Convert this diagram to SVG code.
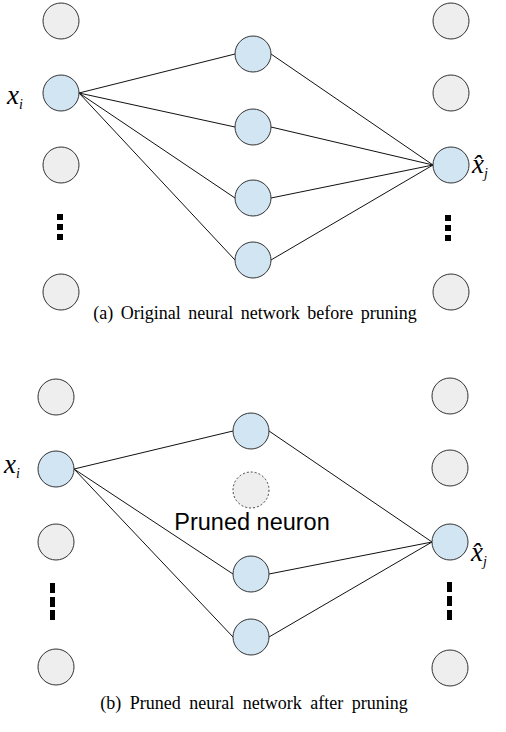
<svg xmlns="http://www.w3.org/2000/svg" width="506" height="732" viewBox="0 0 506 732">
<style>
.n{fill:#eeeeee;stroke:#333333;stroke-width:1}
.b{fill:#d2e5f3;stroke:#333333;stroke-width:1}
.p{fill:#eeeeee;stroke:#444444;stroke-width:1;stroke-dasharray:2 2}
.e{stroke:#111111;stroke-width:1;fill:none}
.m{font-family:"Liberation Serif","Times New Roman",serif;font-style:italic;fill:#000}
.c{font-family:"Liberation Serif","Times New Roman",serif;font-size:18px;fill:#000}
.s{font-family:"Liberation Sans",Arial,sans-serif;font-size:23.5px;fill:#000}
</style>
<rect width="506" height="732" fill="#ffffff"/>
<g id="edges-a">
<line class="e" x1="79" y1="93" x2="235" y2="54"/>
<line class="e" x1="79" y1="93" x2="235" y2="127"/>
<line class="e" x1="79" y1="93" x2="235" y2="198"/>
<line class="e" x1="79" y1="93" x2="235" y2="260"/>
<line class="e" x1="271" y1="54" x2="433" y2="165"/>
<line class="e" x1="271" y1="127" x2="433" y2="165"/>
<line class="e" x1="271" y1="198" x2="433" y2="165"/>
<line class="e" x1="271" y1="260" x2="433" y2="165"/>
</g>
<g id="in-a">
<circle class="n" cx="61" cy="21" r="18"/>
<circle class="b" cx="61" cy="93" r="18"/>
<circle class="n" cx="61" cy="165" r="18"/>
<circle class="n" cx="61" cy="292" r="18"/>
<rect x="57" y="214" width="6" height="6"/>
<rect x="57" y="224" width="6" height="6"/>
<rect x="57" y="234" width="6" height="6"/>
</g>
<g id="hid-a">
<circle class="b" cx="253" cy="54" r="18"/>
<circle class="b" cx="253" cy="127" r="18"/>
<circle class="b" cx="253" cy="198" r="18"/>
<circle class="b" cx="253" cy="260" r="18"/>
</g>
<g id="out-a">
<circle class="n" cx="451" cy="21" r="18"/>
<circle class="n" cx="451" cy="93" r="18"/>
<circle class="b" cx="451" cy="165" r="18"/>
<circle class="n" cx="451" cy="292" r="18"/>
<rect x="445" y="215" width="6" height="6"/>
<rect x="445" y="225" width="6" height="6"/>
<rect x="445" y="235" width="6" height="6"/>
</g>
<g id="labels-a">
<text class="m" x="7" y="104" font-size="27">x<tspan font-size="14" dy="5">i</tspan></text>
<text class="m" x="472" y="173" font-size="27">x̂<tspan font-size="14" dy="5">j</tspan></text>
<text class="c" x="255" y="319" text-anchor="middle" word-spacing="3">(a) Original neural network before pruning</text>
</g>
<g id="edges-b">
<line class="e" x1="74" y1="469" x2="233" y2="431"/>
<line class="e" x1="74" y1="469" x2="233" y2="574"/>
<line class="e" x1="74" y1="469" x2="233" y2="637"/>
<line class="e" x1="269" y1="431" x2="432" y2="542"/>
<line class="e" x1="269" y1="574" x2="432" y2="542"/>
<line class="e" x1="269" y1="637" x2="432" y2="542"/>
</g>
<g id="in-b">
<circle class="n" cx="56" cy="397" r="18"/>
<circle class="b" cx="56" cy="469" r="18"/>
<circle class="n" cx="56" cy="542" r="18"/>
<circle class="n" cx="56" cy="667" r="18"/>
<rect x="50" y="583" width="5" height="10"/>
<rect x="50" y="597" width="5" height="10"/>
<rect x="50" y="610" width="5" height="10"/>
</g>
<g id="hid-b">
<circle class="b" cx="251" cy="431" r="18"/>
<circle class="p" cx="251" cy="490" r="18"/>
<circle class="b" cx="251" cy="574" r="18"/>
<circle class="b" cx="251" cy="637" r="18"/>
<text class="s" x="252" y="530" text-anchor="middle">Pruned neuron</text>
</g>
<g id="out-b">
<circle class="n" cx="450" cy="396" r="18"/>
<circle class="n" cx="450" cy="468" r="18"/>
<circle class="b" cx="450" cy="542" r="18"/>
<circle class="n" cx="450" cy="668" r="18"/>
<rect x="447" y="582" width="5" height="10"/>
<rect x="447" y="596" width="5" height="10"/>
<rect x="447" y="610" width="5" height="10"/>
</g>
<g id="labels-b">
<text class="m" x="4" y="473" font-size="27">x<tspan font-size="14" dy="5">i</tspan></text>
<text class="m" x="471" y="561" font-size="27">x̂<tspan font-size="14" dy="5">j</tspan></text>
<text class="c" x="254" y="709" text-anchor="middle" word-spacing="4">(b) Pruned neural network after pruning</text>
</g>
</svg>
